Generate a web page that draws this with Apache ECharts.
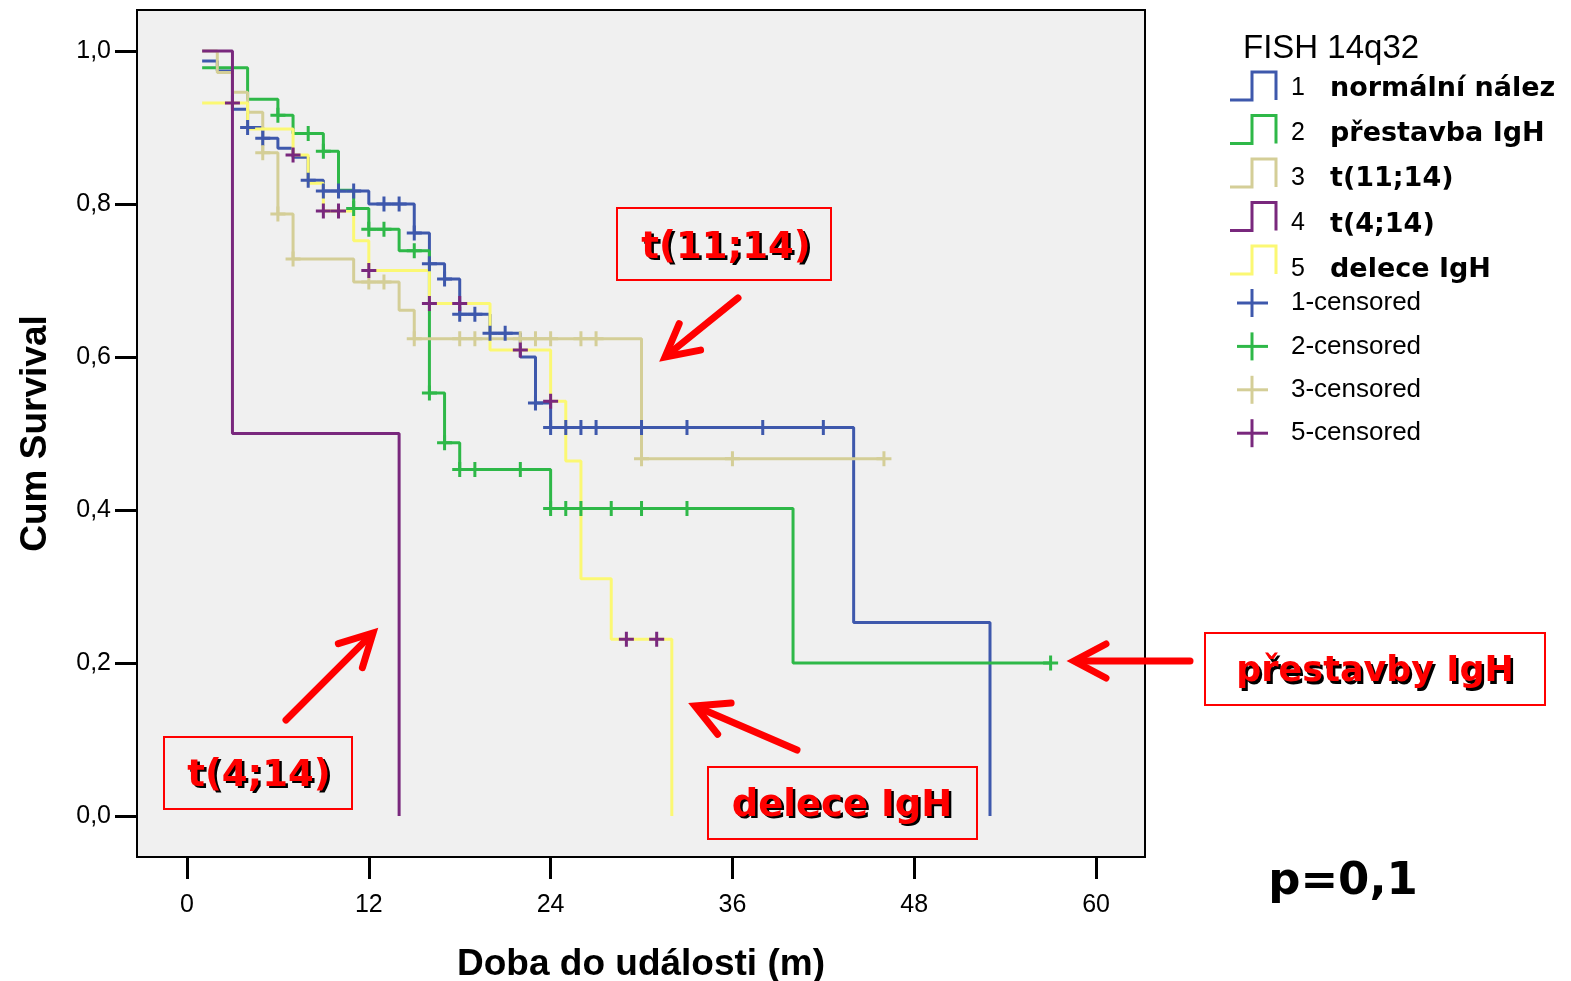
<!DOCTYPE html>
<html><head><meta charset="utf-8">
<script src="https://cdn.jsdelivr.net/npm/echarts@6/dist/echarts.min.js"></script>
<style>html,body{margin:0;padding:0;background:#fff}#c{width:1571px;height:981px}</style>
</head><body><div id="c"></div>
<script>
// ---------- data ----------
const groupIds = ['1','2','3','4','5'];
const groupNames = ['normální nález','přestavba IgH','t(11;14)','t(4;14)','delece IgH'];
const groupColors = ['#3E58AC','#2EB848','#D4CE97','#79287D','#FBF873'];
const xTicks = [0,12,24,36,48,60];
const yTicks = [0,0.2,0.4,0.6,0.8,1.0];

// group 1: normální nález
const times1 = [1,2,3,4,5,6,7,8,9,12,15,16,17,18,20,22,23,24,44,53];
const surv1  = [0.987,0.974,0.924,0.900,0.886,0.873,0.861,0.831,0.817,0.800,0.762,0.722,0.702,0.656,0.631,0.600,0.540,0.508,0.253,0];
const censor1 = [4,5,8,9,10,11,13,14,15,16,17,18,19,20,21,23,24,25,26,27,30,33,38,42];
// group 2: přestavba IgH
const times2 = [1,4,6,7,9,10,11,12,14,16,17,18,24,40];
const surv2  = [0.978,0.937,0.916,0.892,0.869,0.818,0.794,0.767,0.739,0.553,0.488,0.453,0.402,0.200];
const censor2 = [6,8,9,11,12,13,15,16,17,18,19,22,24,25,26,28,30,33,57];
// group 3: t(11;14)
const times3 = [1,2,3,4,5,6,7,11,14,15,30];
const surv3  = [1.0,0.972,0.946,0.920,0.867,0.787,0.728,0.698,0.661,0.624,0.467];
const censor3 = [5,6,7,12,13,15,18,19,22,23,24,26,27,30,36,46];
// group 4: t(4;14)
const times4 = [1,3,14];
const surv4  = [1.0,0.5,0];
const censor4 = [];
// group 5: delece IgH
const times5 = [1,4,7,8,9,11,12,16,20,24,25,26,28,32];
const surv5  = [0.932,0.898,0.864,0.827,0.791,0.752,0.713,0.670,0.609,0.542,0.464,0.310,0.231,0];
const censor5 = [3,7,9,10,12,16,18,22,24,29,31];

const lastTimes = [53,57,46,14,32];
const censorColors = ['#3E58AC','#2EB848','#D4CE97',null,'#79287D'];
const censorLegend = ['1-censored','2-censored','3-censored','5-censored'];
const censorLegendColors = ['#3E58AC','#2EB848','#D4CE97','#79287D'];

// ---------- build ----------
const T = [times1,times2,times3,times4,times5];
const S = [surv1,surv2,surv3,surv4,surv5];
const C = [censor1,censor2,censor3,censor4,censor5];

function stepData(t, s, last) {
  const d = t.map((v,i)=>[v, s[i]]);
  if (last > t[t.length-1]) d.push([last, s[s.length-1]]);
  return d;
}
function survAt(t, s, x) {
  let v = s[0];
  for (let i=0;i<t.length;i++) if (t[i] <= x) v = s[i];
  return v;
}
const PLUS = 'path://M6,0 H9 V6 H15 V9 H9 V15 H6 V9 H0 V6 H6 Z';

const series = [];
for (let g=0; g<5; g++) {
  series.push({
    type:'line', name: groupIds[g], step:'end', showSymbol:false, symbol:'none',
    data: stepData(T[g], S[g], lastTimes[g]),
    lineStyle:{color: groupColors[g], width:3}, itemStyle:{color: groupColors[g]},
    z: 2+g, animation:false, silent:true
  });
}
for (let g=0; g<5; g++) {
  if (!C[g].length) continue;
  series.push({
    type:'scatter', name: groupIds[g]+'-censored', symbol: PLUS, symbolSize: 15,
    data: C[g].map(x=>[x, survAt(T[g], S[g], x)]),
    itemStyle:{color: censorColors[g], opacity:1}, z: 10, animation:false, silent:true
  });
}

// axis ranges so that the grey box extends beyond data range
const xMin = -3.3, xMax = 63.23;
const yMin = -0.0536, yMax = 1.0536;

// ---------- graphic (legend + annotations) ----------
const els = [];
const LF = '"Liberation Sans", Arial, sans-serif';
const BF = '"DejaVu Sans", sans-serif';
function txt(text, x, y, font, fill, align) {
  return {type:'text', silent:true, style:{text, x, y, font, fill, align: align||'left', verticalAlign:'middle', textAlign: align||'left', textVerticalAlign:'middle'}, z:100};
}
els.push(txt('FISH 14q32', 1243, 49, '33px '+LF, '#000'));
for (let i=0;i<5;i++) {
  const b = 100 + i*43.5;
  const ty = 89 + i*45.2;
  els.push({type:'polyline', silent:true, shape:{points:[[1230,b],[1252,b],[1252,b-28],[1276,b-28],[1276,b]]},
    style:{stroke: groupColors[i], lineWidth:3, fill:null}, z:100});
  els.push(txt(groupIds[i], 1298, ty-1, '25px '+LF, '#000', 'center'));
  els.push(txt(groupNames[i], 1330, ty, 'bold 27px '+BF, '#000'));
}
for (let i=0;i<4;i++) {
  const y = 303 + i*43.4;
  els.push({type:'polyline', silent:true, shape:{points:[[1237,y],[1268,y]]}, style:{stroke:censorLegendColors[i], lineWidth:3, fill:null}, z:100});
  els.push({type:'polyline', silent:true, shape:{points:[[1252,y-14],[1252,y+14]]}, style:{stroke:censorLegendColors[i], lineWidth:3, fill:null}, z:100});
  els.push(txt(censorLegend[i], 1291, y, '26px '+LF, '#000'));
}
function box(x1,y1,x2,y2){
  els.push({type:'rect', silent:true, shape:{x:x1,y:y1,width:x2-x1,height:y2-y1}, style:{stroke:'#FF0000', lineWidth:2, fill:null}, z:90});
}
function redText(text, cx, cy, size){
  els.push(txt(text, cx+2.5, cy+2.5, 'bold '+size+'px '+BF, '#000', 'center'));
  els.push(txt(text, cx, cy, 'bold '+size+'px '+BF, '#FF0000', 'center'));
}
function arrow(x1,y1,x2,y2){
  const dx=x2-x1, dy=y2-y1, L=Math.hypot(dx,dy), ux=dx/L, uy=dy/L, nx=-uy, ny=ux;
  const HL=32, HW=17;
  els.push({type:'polyline', silent:true, shape:{points:[[x1,y1],[x2-ux*3,y2-uy*3]]}, style:{stroke:'#FF0000', lineWidth:7, lineCap:'round', fill:null}, z:95});
  els.push({type:'polyline', silent:true, shape:{points:[[x2-ux*HL+nx*HW, y2-uy*HL+ny*HW],[x2,y2],[x2-ux*HL-nx*HW, y2-uy*HL-ny*HW]]},
    style:{stroke:'#FF0000', lineWidth:7, lineCap:'round', lineJoin:'miter', fill:null}, z:95});
}
box(617,208,831,280); redText('t(11;14)', 726, 248, 37);
box(164,737,352,809); redText('t(4;14)', 259, 776, 37);
box(708,767,977,839); redText('delece IgH', 842, 806, 37);
box(1205,633,1545,705); redText('přestavby IgH', 1375, 672, 35);
arrow(738,298,665,357);
arrow(286,720,373,633);
arrow(797,750,695,706);
arrow(1190,661,1074,661);
els.push(txt('p=0,1', 1343, 882, 'bold 45px '+BF, '#000', 'center'));

// ---------- chart ----------
const chart = echarts.init(document.getElementById('c'), null, {renderer:'canvas'});
chart.setOption({
  animation:false,
  backgroundColor:'#fff',
  grid:{left:137, top:10, width:1008, height:847, show:true, backgroundColor:'#F0F0F0', borderColor:'#000', borderWidth:2,
    containLabel:false, outerBoundsMode:'none'},
  xAxis:{type:'value', min:xMin, max:xMax,
    axisLine:{show:true, onZero:false, lineStyle:{color:'#000', width:2}},
    axisTick:{show:true, customValues:xTicks, length:22, lineStyle:{color:'#000', width:3}},
    axisLabel:{customValues:xTicks, margin:36, fontSize:25, color:'#000', fontFamily:'Liberation Sans'},
    splitLine:{show:false},
    name:'Doba do události (m)', nameLocation:'middle', nameGap:89,
    nameTextStyle:{fontSize:37, fontWeight:'bold', color:'#000', fontFamily:'Liberation Sans'}},
  yAxis:{type:'value', min:yMin, max:yMax,
    axisLine:{show:true, onZero:false, lineStyle:{color:'#000', width:2}},
    axisTick:{show:true, customValues:yTicks, length:22, lineStyle:{color:'#000', width:3}},
    axisLabel:{customValues:yTicks, margin:26, fontSize:25, color:'#000', fontFamily:'Liberation Sans',
      formatter: v => v.toFixed(1).replace('.', ',')},
    splitLine:{show:false},
    name:'Cum Survival', nameLocation:'middle', nameGap:83, nameRotate:90,
    nameTextStyle:{fontSize:37, fontWeight:'bold', color:'#000', fontFamily:'Liberation Sans'}},
  series: series,
  graphic:{elements: els}
});
</script></body></html>
